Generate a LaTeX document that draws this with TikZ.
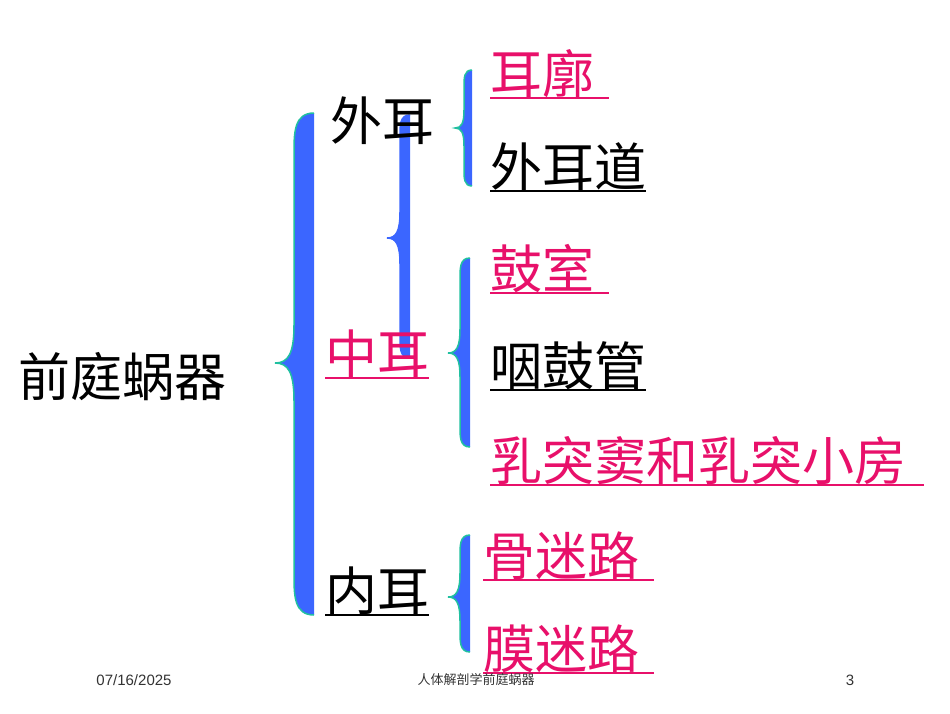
\documentclass[tikz,border=0pt]{standalone}
\usepackage{fontspec}
\newfontfamily\cjk{Noto Sans CJK SC}
\setmainfont{Liberation Sans}
\definecolor{pk}{HTML}{E8106A}
\definecolor{bl}{HTML}{3B66FF}
\definecolor{tl}{HTML}{20C0A0}
\newcommand\brc[7]{% R T B M w d teal?
\fill[bl] (#1,#2) .. controls (#1-#5,#2) and (#1-#5,#2+#5) .. (#1-#5,#2+2*#5)
 -- (#1-#5,#4-2*#6) .. controls (#1-#5,#4-0.5*#6) and (#1-#5-0.3*#6,#4) .. (#1-#5-#6,#4)
 .. controls (#1-#5-0.3*#6,#4) and (#1-#5,#4+0.5*#6) .. (#1-#5,#4+2*#6)
 -- (#1-#5,#3-2*#5) .. controls (#1-#5,#3-#5) and (#1-#5,#3) .. (#1,#3) -- cycle;
\draw[#7,line width=1.5] (#1,#2) .. controls (#1-#5,#2) and (#1-#5,#2+#5) .. (#1-#5,#2+2*#5)
 -- (#1-#5,#4-2*#6) .. controls (#1-#5,#4-0.5*#6) and (#1-#5-0.3*#6,#4) .. (#1-#5-#6,#4)
 .. controls (#1-#5-0.3*#6,#4) and (#1-#5,#4+0.5*#6) .. (#1-#5,#4+2*#6)
 -- (#1-#5,#3-2*#5) .. controls (#1-#5,#3-#5) and (#1-#5,#3) .. (#1,#3);}
\begin{document}
\begin{tikzpicture}[x=1pt,y=-1pt,
 t/.style={anchor=base west,inner sep=0,font=\cjk\fontsize{52}{52}\selectfont},
 f/.style={inner sep=0,font=\fontsize{15}{15}\selectfont,text=black!80}]
\useasboundingbox (0,0) rectangle (950,713);
\brc{314}{113}{615}{363}{20}{19}{tl}
\brc{410}{115}{358}{238}{10}{13}{bl}
\brc{472}{70}{186}{128}{8}{9}{tl}
\brc{470}{258}{447}{353}{10}{12}{tl}
\brc{470}{535}{652}{597}{10}{12}{tl}
\node[t] (a) at (18,396) {前庭蜗器};
\node[t] (b) at (330,140) {外耳};
\node[t,text=pk] (c) at (325,373) {中耳};
\node[t] (d) at (325,610) {内耳};
\node[t,text=pk] (e) at (490,93) {耳廓};
\node[t] (g) at (490,186) {外耳道};
\node[t,text=pk] (h) at (490,288) {鼓室};
\node[t] (i) at (490,385) {咽鼓管};
\node[t,text=pk] (j) at (490,480) {乳突窦和乳突小房};
\node[t,text=pk] (k) at (483,575) {骨迷路};
\node[t,text=pk] (l) at (483,668) {膜迷路};
\foreach \n/\c/\e in {c/pk/0,d/black/0,e/pk/15,g/black/0,h/pk/15,i/black/0,j/pk/18,k/pk/15,l/pk/15}
  \draw[\c,line width=2.5] ([yshift=-5]\n.base west) -- ([xshift=\e,yshift=-5]\n.base east);
\node[f] (m) at (134,680) {07/16/2025};
\node[f,font=\cjk\fontsize{13}{13}\selectfont] (n) at (476,680) {人体解剖学前庭蜗器};
\node[f] (o) at (850,680) {3};
\end{tikzpicture}
\end{document}
